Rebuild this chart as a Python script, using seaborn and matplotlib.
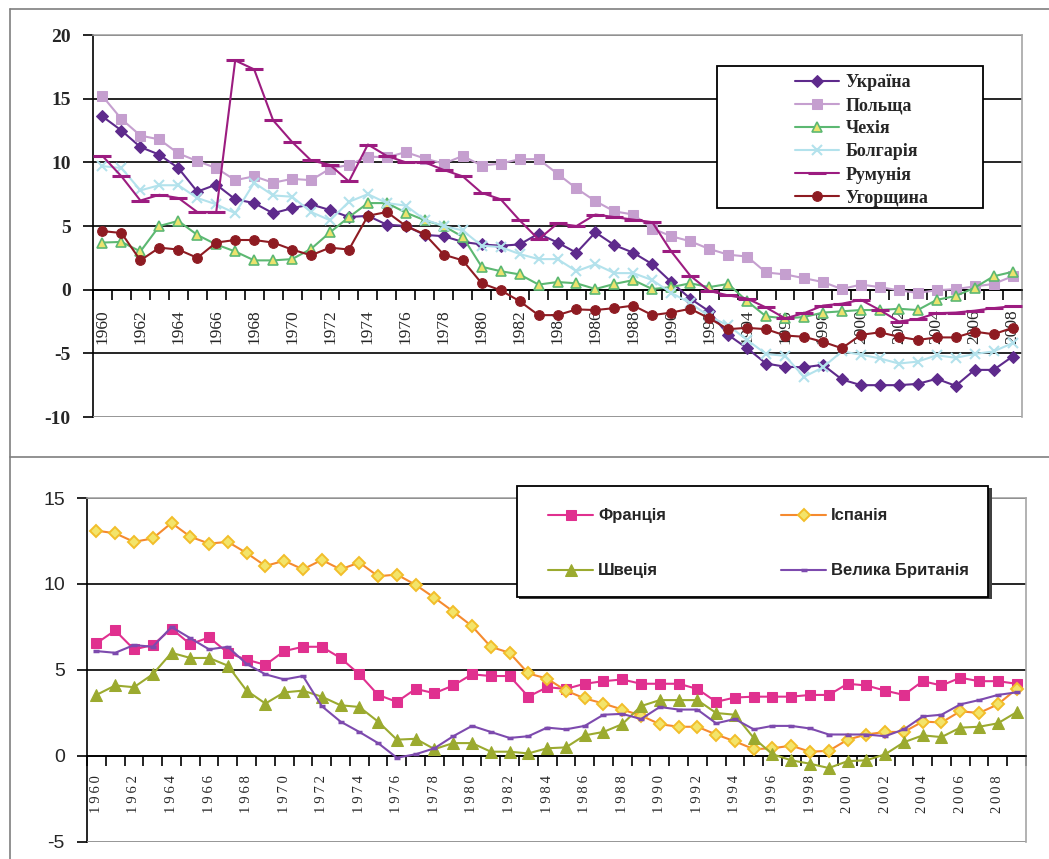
import numpy as np
import pandas as pd
import matplotlib
matplotlib.use("Agg")
import matplotlib.pyplot as plt
from matplotlib.patches import Rectangle
from matplotlib.lines import Line2D
import seaborn as sns

# ---- data ----
years_top = list(range(1960, 2009))
years_bot = list(range(1960, 2010))

ukraine = [13.6, 12.5, 11.2, 10.6, 9.55, 7.7, 8.25, 7.1, 6.8, 6.0,
           6.4, 6.7, 6.25, 5.7, 5.8, 5.1, 5.0, 4.3, 4.2, 3.75,
           3.55, 3.45, 3.55, 4.4, 3.7, 2.9, 4.5, 3.5, 2.9, 2.0,
           0.6, -0.7, -1.7, -3.55, -4.6, -5.8, -6.05, -6.1, -5.9, -7.05,
           -7.5, -7.5, -7.5, -7.4, -7.0, -7.55, -6.3, -6.3, -5.25]
poland = [15.2, 13.4, 12.1, 11.8, 10.7, 10.1, 9.55, 8.6, 8.9, 8.4,
          8.7, 8.6, 9.5, 9.8, 10.45, 10.4, 10.8, 10.3, 9.9, 10.5,
          9.75, 9.9, 10.25, 10.25, 9.1, 7.95, 6.95, 6.15, 5.9, 4.8,
          4.2, 3.8, 3.2, 2.75, 2.6, 1.35, 1.2, 0.9, 0.6, 0.05,
          0.4, 0.2, -0.05, -0.25, -0.05, 0.05, 0.25, 0.45, 1.05]
czech = [3.7, 3.75, 3.0, 5.0, 5.4, 4.3, 3.55, 3.0, 2.3, 2.3,
         2.4, 3.2, 4.5, 5.7, 6.8, 6.8, 6.05, 5.45, 5.0, 4.15,
         1.8, 1.45, 1.2, 0.4, 0.6, 0.5, 0.05, 0.45, 0.75, 0.05,
         0.2, 0.5, 0.2, 0.45, -0.9, -2.1, -2.25, -2.15, -1.8, -1.7,
         -1.6, -1.6, -1.5, -1.6, -0.8, -0.5, 0.15, 1.05, 1.4]
bulgaria = [9.7, 9.55, 7.8, 8.2, 8.2, 7.2, 6.7, 6.0, 8.4, 7.4,
            7.3, 6.1, 5.45, 6.9, 7.5, 6.8, 6.6, 5.5, 5.0, 4.65,
            3.45, 3.35, 2.8, 2.4, 2.4, 1.45, 2.0, 1.3, 1.3, 0.75,
            -0.25, -1.05, -2.1, -2.8, -3.95, -5.05, -5.2, -6.85, -6.1, -4.85,
            -5.1, -5.4, -5.8, -5.65, -5.15, -5.35, -5.05, -4.85, -4.2]
romania = [10.5, 8.9, 7.0, 7.45, 7.2, 6.1, 6.1, 18.0, 17.3, 13.3,
           11.6, 10.15, 9.8, 8.5, 11.4, 10.5, 10.0, 10.0, 9.4, 8.9,
           7.6, 7.1, 5.45, 3.95, 5.2, 5.0, 5.9, 5.7, 5.5, 5.3,
           3.0, 1.1, -0.1, -0.45, -0.7, -1.4, -2.25, -1.85, -1.25, -1.1,
           -0.8, -1.6, -2.5, -2.3, -1.85, -1.8, -1.65, -1.45, -1.3]
hungary = [4.6, 4.45, 2.3, 3.3, 3.15, 2.5, 3.7, 3.9, 3.9, 3.7,
           3.15, 2.7, 3.3, 3.15, 5.8, 6.1, 5.0, 4.35, 2.75, 2.3,
           0.5, -0.05, -0.9, -2.0, -2.0, -1.55, -1.6, -1.45, -1.25, -2.0,
           -1.8, -1.5, -2.25, -3.1, -3.0, -3.1, -3.6, -3.7, -4.1, -4.6,
           -3.55, -3.35, -3.7, -3.95, -3.75, -3.75, -3.3, -3.5, -3.0]

france = [6.55, 7.3, 6.2, 6.45, 7.4, 6.5, 6.9, 6.0, 5.6, 5.3,
          6.1, 6.35, 6.35, 5.7, 4.75, 3.55, 3.15, 3.9, 3.65, 4.1,
          4.75, 4.65, 4.65, 3.45, 4.0, 3.9, 4.2, 4.35, 4.45, 4.2,
          4.2, 4.2, 3.9, 3.15, 3.4, 3.45, 3.45, 3.45, 3.55, 3.55,
          4.2, 4.1, 3.8, 3.55, 4.35, 4.1, 4.55, 4.35, 4.35, 4.2]
spain = [13.1, 12.95, 12.45, 12.65, 13.55, 12.75, 12.35, 12.45, 11.8, 11.05,
         11.35, 10.85, 11.4, 10.85, 11.25, 10.45, 10.55, 9.95, 9.2, 8.4,
         7.55, 6.35, 6.0, 4.8, 4.5, 3.8, 3.35, 3.05, 2.7, 2.35,
         1.85, 1.7, 1.7, 1.25, 0.85, 0.4, 0.45, 0.6, 0.25, 0.3,
         0.95, 1.25, 1.4, 1.4, 2.0, 1.95, 2.6, 2.5, 3.0, 3.9]
sweden = [3.55, 4.1, 4.0, 4.75, 6.0, 5.7, 5.7, 5.25, 3.8, 3.05,
          3.7, 3.8, 3.45, 2.95, 2.85, 2.0, 0.95, 1.0, 0.4, 0.75,
          0.75, 0.25, 0.25, 0.15, 0.45, 0.5, 1.2, 1.4, 1.85, 2.9,
          3.25, 3.25, 3.25, 2.5, 2.4, 1.05, 0.1, -0.25, -0.45, -0.7,
          -0.3, -0.25, 0.1, 0.8, 1.2, 1.1, 1.65, 1.7, 1.9, 2.55]
uk = [6.1, 6.0, 6.45, 6.35, 7.5, 6.85, 6.2, 6.35, 5.35, 4.75,
      4.45, 4.65, 2.9, 2.0, 1.4, 0.75, -0.1, 0.1, 0.45, 1.15,
      1.75, 1.4, 1.05, 1.15, 1.65, 1.55, 1.75, 2.4, 2.45, 2.15,
      2.85, 2.7, 2.7, 1.9, 2.15, 1.55, 1.75, 1.75, 1.6, 1.25,
      1.25, 1.25, 1.15, 1.55, 2.3, 2.4, 3.0, 3.25, 3.55, 3.7]

top_names = ["Україна", "Польща", "Чехія", "Болгарія", "Румунія", "Угорщина"]
bot_names = ["Франція", "Іспанія", "Швеція", "Велика Британія"]
top_ticks = [-10, -5, 0, 5, 10, 15, 20]
bot_ticks = [-5, 0, 5, 10, 15]

# ---- style ----
sns.set_theme(style="white")
plt.rcParams["font.family"] = ["Liberation Serif", "DejaVu Serif"]
plt.rcParams["axes.unicode_minus"] = False

W, H = 1049, 859
fig = plt.figure(figsize=(W / 100, H / 100), dpi=100)


def fx(px):
    return px / W


def fy(py):
    return 1 - py / H


BORDER = "#A6A6A6"


def style_axes(ax, years, ticks, ylab_font, ylab_size, ylab_weight, xlab_text):
    ax.set_xlim(years[0] - 0.5, years[-1] + 0.5)
    ax.set_ylim(ticks[0], ticks[-1])
    ax.set_facecolor("white")
    ax.spines["bottom"].set_position(("data", 0))
    ax.spines["bottom"].set_color("black")
    ax.spines["left"].set_color("black")
    for s in ("bottom", "left"):
        ax.spines[s].set_linewidth(1.2)
    for s in ("top", "right"):
        ax.spines[s].set_color(BORDER)
        ax.spines[s].set_linewidth(1.2)
    ax.axhline(ticks[0], color=BORDER, lw=2.0, zorder=3)
    ax.set_yticks(ticks, labels=[str(t) for t in ticks], fontfamily=ylab_font,
                  fontsize=ylab_size, fontweight=ylab_weight)
    ax.tick_params(axis="y", which="major", direction="out", length=7,
                   width=1.2, color="black", pad=9, left=True)
    ax.yaxis.grid(True, color="black", lw=1.2)
    ax.xaxis.grid(False)
    ax.set_axisbelow(True)
    # category boundaries carry the tick marks, labels sit on every 2nd year
    ax.set_xticks(np.arange(years[0] - 0.5, years[-1] + 1.0, 1.0))
    ax.tick_params(axis="x", which="major", direction="out", length=7,
                   width=1.2, color="black", labelbottom=False, bottom=True)
    lab_years = years[::2]
    ax.set_xticks(lab_years, labels=[xlab_text(y) for y in lab_years], minor=True,
                  rotation=90, fontfamily=["Liberation Serif", "DejaVu Serif"])
    ax.tick_params(axis="x", which="minor", length=0, pad=14, bottom=True)
    ax.set_xlabel("")
    ax.set_ylabel("")


# ---- top chart ----
ax1 = fig.add_axes([fx(93), fy(417), fx(1022 - 93), (417 - 35) / H])
top_series = [ukraine, poland, czech, bulgaria, romania, hungary]
top_style = [
    dict(color="#5E2A8C", marker="D", markersize=6.5, markerfacecolor="#5E2A8C",
         markeredgecolor="#5E2A8C"),
    dict(color="#C59FCF", marker="s", markersize=7, markerfacecolor="#C59FCF",
         markeredgecolor="#C59FCF"),
    dict(color="#5CB872", marker="^", markersize=7.5, markerfacecolor="#ECE36E",
         markeredgecolor="#5CB872", markeredgewidth=1.2),
    dict(color="#B3E2EC", marker="x", markersize=7.5, markeredgewidth=1.5,
         markeredgecolor="#B3E2EC"),
    dict(color="#9C1C80", marker="_", markersize=13, markeredgewidth=2.2,
         markeredgecolor="#9C1C80"),
    dict(color="#8E1B22", marker="o", markersize=7, markerfacecolor="#8E1B22",
         markeredgecolor="#8E1B22"),
]
for name, vals, st in zip(top_names, top_series, top_style):
    df = pd.DataFrame({"year": years_top, "value": vals})
    sns.lineplot(data=df, x="year", y="value", ax=ax1, label=name, lw=1.5,
                 zorder=4, **st)

style_axes(ax1, years_top, top_ticks, ["Liberation Serif", "DejaVu Serif"], 14,
           "bold", lambda y: str(y))
ax1.tick_params(axis="x", which="minor", labelsize=12.5)
ax1.get_legend().remove()

h1, l1 = ax1.get_legend_handles_labels()
fig.patches.append(Rectangle((fx(717), fy(208)), fx(983 - 717), (208 - 66) / H,
                             transform=fig.transFigure, facecolor="white",
                             edgecolor="black", lw=1.3, zorder=5))
leg1 = fig.legend(h1, l1, loc="upper left", bbox_to_anchor=(fx(786), fy(65)),
                  frameon=False, borderpad=0, handlelength=2.45,
                  handletextpad=0.35, labelspacing=0.34,
                  prop=dict(family=["Liberation Serif", "DejaVu Serif"],
                            weight="bold", size=13))
leg1.set_zorder(6)

# ---- bottom chart ----
ax2 = fig.add_axes([fx(87), fy(842), fx(1026 - 87), (842 - 498) / H])
bot_series = [france, spain, sweden, uk]
bot_style = [
    dict(color="#E0308F", marker="s", markersize=7.5, markerfacecolor="#E0308F",
         markeredgecolor="#E0308F"),
    dict(color="#F58A2F", marker="D", markersize=6, markerfacecolor="#F3E46A",
         markeredgecolor="#F2BE2A", markeredgewidth=1.4),
    dict(color="#9BAA2F", marker="^", markersize=8, markerfacecolor="#9BAA2F",
         markeredgecolor="#9BAA2F"),
    dict(color="#7D4AAE", marker="_", markersize=4.5, markeredgewidth=2.5,
         markeredgecolor="#7D4AAE"),
]
for name, vals, st in zip(bot_names, bot_series, bot_style):
    df = pd.DataFrame({"year": years_bot, "value": vals})
    sns.lineplot(data=df, x="year", y="value", ax=ax2, label=name, lw=1.5,
                 zorder=4, **st)

style_axes(ax2, years_bot, bot_ticks, ["Liberation Sans", "DejaVu Sans"], 14,
           "normal", lambda y: "\u2009".join(str(y)))
ax2.tick_params(axis="x", which="minor", labelsize=10.5)
ax2.get_legend().remove()

h2, l2 = ax2.get_legend_handles_labels()
# legend fills column by column: reorder so rows read France/Spain, Sweden/UK
order = [0, 2, 1, 3]
h2 = [h2[i] for i in order]
l2 = [l2[i] for i in order]
fig.patches.append(Rectangle((fx(519), fy(599)), fx(990 - 517), (597 - 486) / H,
                             transform=fig.transFigure, facecolor="#404040",
                             edgecolor="none", zorder=5))
fig.patches.append(Rectangle((fx(517), fy(597)), fx(988 - 517), (597 - 486) / H,
                             transform=fig.transFigure, facecolor="white",
                             edgecolor="black", lw=1.3, zorder=5))
leg2 = fig.legend(h2, l2, loc="upper left", bbox_to_anchor=(fx(540), fy(500)),
                  ncol=2, frameon=False, borderpad=0, handlelength=2.7,
                  handletextpad=0.3, labelspacing=2.4, columnspacing=6.9,
                  prop=dict(family=["Liberation Sans", "DejaVu Sans"],
                            weight="bold", size=12))
leg2.set_zorder(6)

# ---- outer frame ----
for xs, ys in [((fx(10), 1), (fy(9), fy(9))),
               ((fx(10), fx(10)), (fy(9), 0)),
               ((fx(10), 1), (fy(457), fy(457)))]:
    fig.add_artist(Line2D(xs, ys, transform=fig.transFigure, color="#7F7F7F",
                          lw=1.2))

fig.savefig("out.png", dpi=100, facecolor="white")
